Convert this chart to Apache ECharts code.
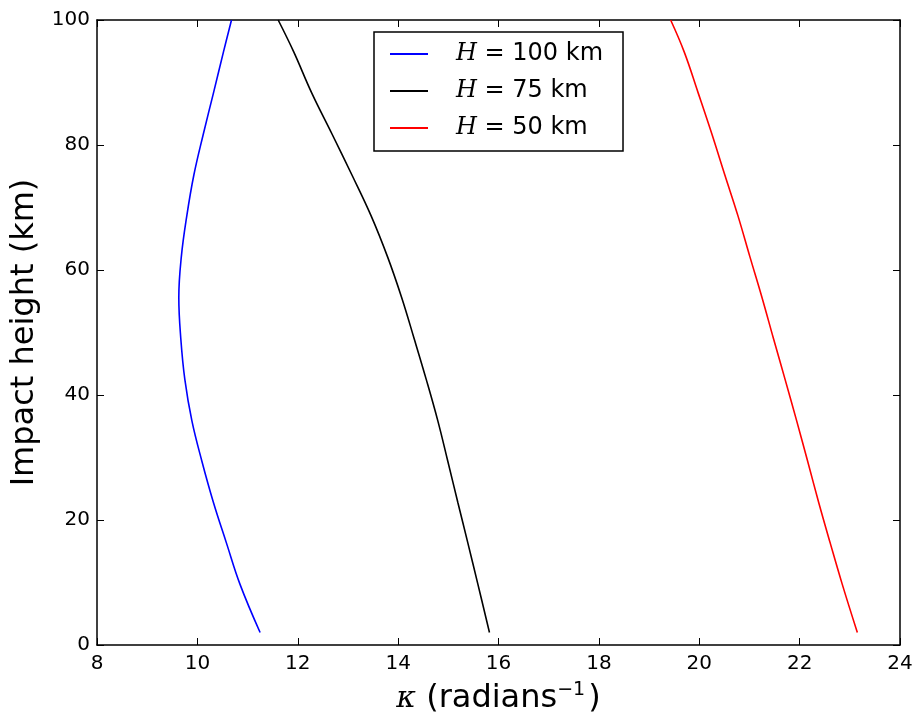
<!DOCTYPE html>
<html>
<head>
<meta charset="utf-8">
<script src="https://cdn.jsdelivr.net/npm/echarts@6/dist/echarts.min.js"></script>
<style>
  html, body { margin: 0; padding: 0; background: #fff; }
  #main { width: 916px; height: 716px; }
</style>
</head>
<body>
<div id="main"></div>
<script>
// impact heights (km) shared by the three curves
var heights = [2, 9.7, 16.3, 22.8, 29.4, 35.9, 42.5, 49.0, 55.6, 62.1, 68.7, 75.2, 81.8, 88.3, 94.9, 100];
// kappa (radians^-1)
var kappaH100 = [11.25, 10.85, 10.58, 10.32, 10.09, 9.89, 9.75, 9.67, 9.63, 9.68, 9.79, 9.93, 10.12, 10.32, 10.52, 10.68];
var kappaH75 = [15.82, 15.59, 15.39, 15.19, 14.99, 14.79, 14.56, 14.32, 14.07, 13.79, 13.46, 13.08, 12.68, 12.28, 11.92, 11.61];
var kappaH50 = [23.15, 22.85, 22.61, 22.38, 22.16, 21.94, 21.71, 21.48, 21.25, 21.01, 20.77, 20.51, 20.25, 19.98, 19.70, 19.43];
var seriesNames = ['H = 100 km', 'H = 75 km', 'H = 50 km'];
var seriesColors = ['#0000ff', '#000000', '#ff0000'];
var xTicks = [8, 10, 12, 14, 16, 18, 20, 22, 24];
var yTicks = [0, 20, 40, 60, 80, 100];

var myChart = echarts.init(document.getElementById('main'));
var font = 'DejaVu Sans';

function pairs(xs) {
  return xs.map(function (x, i) { return [x, heights[i]]; });
}

var allKappa = [kappaH100, kappaH75, kappaH50];
var series = allKappa.map(function (k, i) {
  return {
    name: seriesNames[i],
    type: 'line',
    data: pairs(k),
    showSymbol: false,
    smooth: 0.4,
    lineStyle: { color: seriesColors[i], width: 1.6 },
    itemStyle: { color: seriesColors[i] },
    animation: false
  };
});

function mainAxisX(pos, showLabel) {
  return {
    type: 'value', position: pos, min: xTicks[0], max: xTicks[xTicks.length - 1], interval: 2,
    axisLine: { show: true, onZero: false, lineStyle: { color: '#000', width: 1.5 } },
    axisTick: { show: true, inside: true, length: 7, lineStyle: { color: '#000', width: 1 } },
    axisLabel: { show: showLabel, color: '#000', fontFamily: font, fontSize: 20, margin: 9 },
    splitLine: { show: false }
  };
}
function mainAxisY(pos, showLabel) {
  return {
    type: 'value', position: pos, min: yTicks[0], max: yTicks[yTicks.length - 1], interval: 20,
    axisLine: { show: true, onZero: false, lineStyle: { color: '#000', width: 1.5 } },
    axisTick: { show: true, inside: true, length: 7, lineStyle: { color: '#000', width: 1 } },
    axisLabel: { show: showLabel, color: '#000', fontFamily: font, fontSize: 20, margin: 7 },
    splitLine: { show: false }
  };
}

var xBottom = mainAxisX('bottom', true);
xBottom.name = '{k|κ} (radians{s|−1})';
xBottom.nameLocation = 'middle';
xBottom.nameGap = 33;
xBottom.nameTextStyle = {
  color: '#000', fontFamily: font, fontSize: 32, lineHeight: 40,
  rich: {
    k: { fontFamily: 'DejaVu Serif', fontStyle: 'italic', fontSize: 30, lineHeight: 40, color: '#000' },
    s: { fontFamily: font, fontSize: 19, lineHeight: 20, color: '#000', verticalAlign: 'top', padding: [2, 3, 0, 0] }
  }
};
var yLeft = mainAxisY('left', true);
yLeft.name = 'Impact height (km)';
yLeft.nameLocation = 'middle';
yLeft.nameGap = 54;
yLeft.nameTextStyle = { color: '#000', fontFamily: font, fontSize: 32 };

var option = {
  backgroundColor: '#fff',
  grid: { left: 97, right: 16, top: 20, bottom: 71, containLabel: false, outerBoundsMode: 'none' },
  xAxis: [xBottom, mainAxisX('top', false)],
  yAxis: [yLeft, mainAxisY('right', false)],
  legend: {
    orient: 'vertical',
    left: 374, top: 32,
    padding: [10, 20, 11, 16],
    itemGap: 13,
    itemWidth: 38,
    itemHeight: 2,
    icon: 'rect',
    borderColor: '#000',
    borderWidth: 1.5,
    borderRadius: 0,
    backgroundColor: '#fff',
    data: seriesNames,
    formatter: function (name) {
      return '{i|H}{t|' + name.slice(1) + '}';
    },
    textStyle: {
      color: '#000', fontFamily: font, fontSize: 24,
      rich: {
        i: { fontFamily: 'DejaVu Serif', fontStyle: 'italic', fontSize: 24, lineHeight: 25, color: '#000', padding: [0, 0, 0, 23] },
        t: { fontFamily: font, fontSize: 24, lineHeight: 25, color: '#000' }
      }
    }
  },
  series: series
};
myChart.setOption(option);
</script>
</body>
</html>
